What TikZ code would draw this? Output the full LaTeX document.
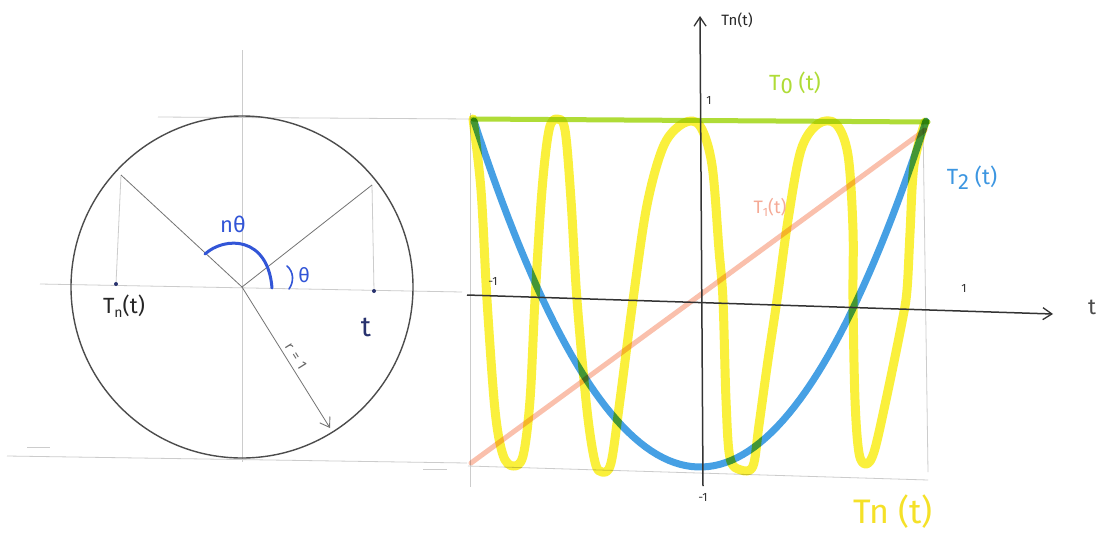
\documentclass[tikz,border=0pt]{standalone}
\usepackage{fontspec}
\setmainfont{Fira Sans}
\usetikzlibrary{arrows.meta}
\definecolor{tgreen}{RGB}{175,220,55}
\definecolor{tyellow}{RGB}{250,240,60}
\definecolor{tyeltext}{RGB}{245,225,40}
\definecolor{tblue}{RGB}{70,160,228}
\definecolor{tbluetext}{RGB}{60,150,225}
\definecolor{tpink}{RGB}{250,192,172}
\definecolor{tpinktext}{RGB}{245,170,150}
\definecolor{penblue}{RGB}{50,85,215}
\definecolor{navy}{RGB}{40,50,110}
\newcommand\fsz[1]{\fontsize{#1}{#1}\selectfont}
\begin{document}
\begin{tikzpicture}[x=1pt,y=-1pt,
  guide/.style={draw=black!20, line width=0.8pt},
  radline/.style={draw=black!55, line width=0.8pt},
  circ/.style={draw=black!70, line width=1.4pt},
  axisline/.style={draw=black!80, line width=1.5pt},
  tip/.style={-{Straight Barb[length=9pt,width=12pt,line width=1.3pt]}},
  dot/.style={circle, fill=navy, inner sep=0pt, minimum size=4pt},
  lbl/.style={inner sep=0pt, anchor=center},
  yel/.style={draw=tyellow, line width=9pt, line cap=round, line join=round},
  blu/.style={draw=tblue, line width=7pt, line cap=round},
  grn/.style={draw=tgreen, line width=5pt, line cap=round},
  pnk/.style={draw=tpink, line width=5pt, line cap=round}]
\useasboundingbox[fill=white] (0,0) rectangle (1096,536);

% ---------------- left panel ----------------
\coordinate (O) at (242,287);
\coordinate (P1) at (121,175);
\coordinate (P2) at (372,185);
\coordinate (R) at (330,428);

\draw[guide] (242,50) -- (242,462);
\draw[guide] (40,284) -- (462,292);
\draw[guide] (158,117) -- (472,119);
\draw[guide] (7,456) -- (467,463);
\draw[guide] (27,447) -- (50,447);
\draw[guide] (423,469) -- (447,469);

\draw[circ] (O) circle[radius=171pt];

\node[dot] (d1) at (116,284) {};
\node[dot] (d2) at (374,291) {};
\draw[guide] (P1) -- (d1);
\draw[guide] (P2) -- (d2);
\draw[radline] (O) -- (P1);
\draw[radline] (O) -- (P2);
\draw[radline, -{Straight Barb[length=9pt,width=12pt,line width=0.9pt]}] (O) -- (R);
\node[lbl, font=\fsz{14}, text=black!60, rotate=-58] (rlab) at (296,356) {r\hspace{5pt}=\hspace{5pt}1};

\draw[penblue, line width=3pt, line cap=round] (205,254) .. controls (225,236) and (268,236) .. (272,288);
\draw[penblue, line width=1.6pt, line cap=round] (287,266) .. controls (294,272) and (294,282) .. (289,289);
\node[lbl, font=\fsz{22}, text=penblue] (nth) at (233,224) {nθ};
\node[lbl, font=\fsz{20}, text=penblue] (th) at (304,275) {θ};
\node[lbl, font=\fsz{22}, text=black!85] (tnl) at (124,306) {T{\raisebox{-0.35ex}{\fsz{14}n}}(t)};
\node[lbl, font=\fsz{28}, text=navy] (tl) at (366,327) {t};

% ---------------- right panel ----------------
\draw[guide] (470,113) -- (470,487);
\draw[guide] (923,123) -- (928,472);
\draw[guide] (468,466) -- (928,480);

\begin{scope}[blend mode=multiply]
\draw[yel] plot[smooth, tension=0.55] coordinates {
 (473,119) (481,190) (487,300) (495,410) (503,455) (513,466) (523,456) (530,400)
 (535,300) (542,190) (549,130) (557,119) (565,130) (571,200) (577,300) (587,410)
 (595,462) (602,472) (611,463) (620,400) (633,300) (647,205) (664,145) (684,123)
 (700,126) (712,165) (719,250) (723,300) (726,400) (730,458) (741,470) (753,466)
 (759,425) (768,360) (777,300) (788,220) (801,150) (818,124) (836,124) (848,155)
 (853,230) (853,300) (855,400) (859,453) (866,464) (874,452) (886,400) (902,322)
 (907,290) (910,233) (914,165) (925,122)};
\draw[pnk] (471,463) -- (925,130);
\draw[blu] plot[domain=-1:1, samples=80] ({700+226*\x},{294-173*(2*\x*\x-1)});
\draw[grn] (473,119) -- (928,122);
\end{scope}

\coordinate (xs) at (467,295);
\coordinate (xe) at (1053,314);
\coordinate (ys) at (703,486);
\coordinate (ye) at (700,16);
\draw[axisline, tip] (xs) -- (xe);
\draw[axisline, tip] (ys) -- (ye);

\node[lbl, font=\fsz{15}, text=black!85] (yl) at (737,20) {Tn(t)};
\node[lbl, font=\fsz{12}, text=black!80] (one1) at (709,100) {1};
\node[lbl, font=\fsz{12}, text=black!80] (mone1) at (493,281) {-1};
\node[lbl, font=\fsz{12}, text=black!80] (one2) at (964,288) {1};
\node[lbl, font=\fsz{12}, text=black!80] (mone2) at (703,497) {-1};
\node[lbl, font=\fsz{22}, text=black!70] (tx) at (1092,307) {t};

\node[lbl, font=\fsz{22}, text=tgreen] (T0) at (795,83) {T{\raisebox{-0.3ex}{0}} (t)};
\node[lbl, font=\fsz{18}, text=tpinktext] (T1) at (770,207) {T{\raisebox{-0.3ex}{\fsz{12}1}}(t)};
\node[lbl, font=\fsz{22}, text=tbluetext] (T2) at (972,178) {T{\raisebox{-0.4ex}{2}} (t)};
\node[lbl, font=\fsz{34}, text=tyeltext] (Tn) at (893,512) {Tn (t)};
\end{tikzpicture}
\end{document}
